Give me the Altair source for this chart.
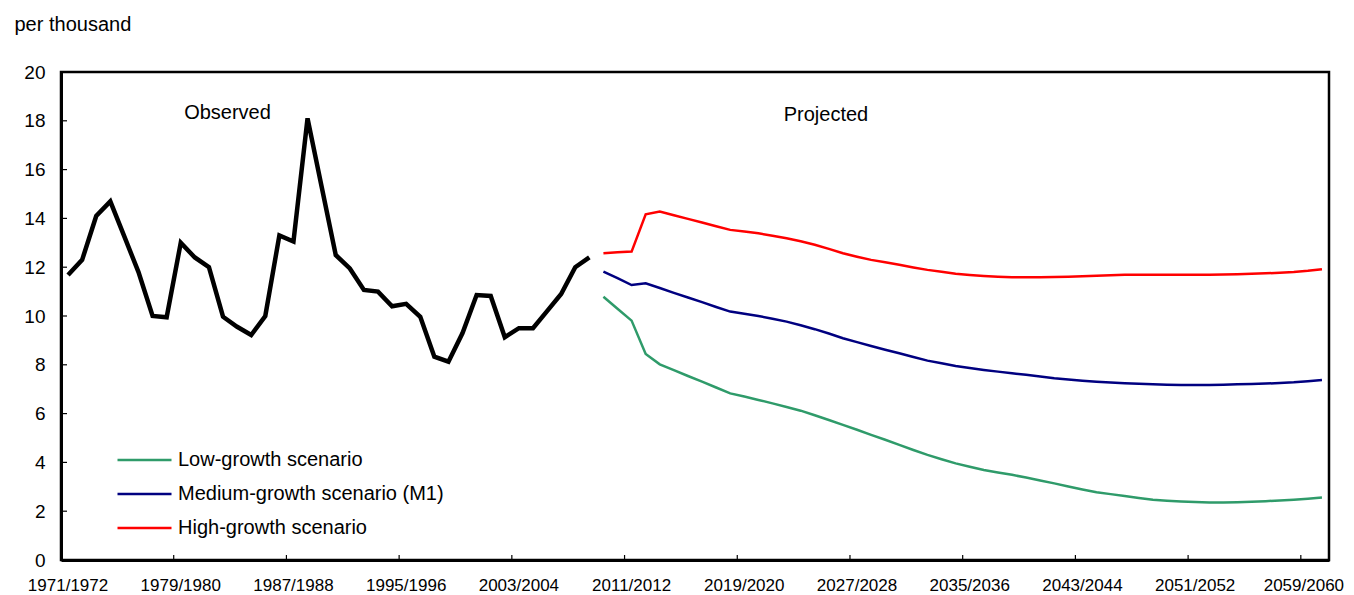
import altair as alt
import pandas as pd

# ---------------- data ----------------
start_years = list(range(1971, 2061))
periods = [f"{y}/{y + 1}" for y in start_years]          # 1971/1972 ... 2060/2061
tick_periods = periods[::8]                                # labelled categories
y_ticks = [0, 2, 4, 6, 8, 10, 12, 14, 16, 18, 20]

observed_periods = periods[0:38]                           # 1971/1972 ... 2008/2009
observed = [11.68, 12.3, 14.1, 14.7, 13.25, 11.8, 10.0, 9.95, 13.0, 12.4,
            12.0, 9.97, 9.56, 9.22, 10.0, 13.3, 13.05, 18.1, 15.3, 12.5,
            11.95, 11.07, 11.0, 10.4, 10.5, 9.97, 8.33, 8.13, 9.3, 10.86,
            10.82, 9.13, 9.5, 9.5, 10.2, 10.9, 12.0, 12.4]

proj_periods = periods[38:90]                              # 2009/2010 ... 2060/2061
low = [10.79, 10.30, 9.81, 8.44, 8.02, 7.78, 7.54, 7.31, 7.07, 6.83,
       6.70, 6.56, 6.42, 6.27, 6.12, 5.93, 5.74, 5.54, 5.34, 5.13,
       4.93, 4.72, 4.51, 4.31, 4.13, 3.96, 3.82, 3.69, 3.59, 3.49,
       3.38, 3.26, 3.14, 3.01, 2.89, 2.78, 2.70, 2.62, 2.54, 2.47,
       2.43, 2.40, 2.38, 2.36, 2.36, 2.37, 2.39, 2.41, 2.44, 2.47,
       2.51, 2.56]
medium = [11.82, 11.55, 11.27, 11.34, 11.15, 10.95, 10.76, 10.57, 10.37, 10.18,
          10.09, 10.00, 9.89, 9.77, 9.62, 9.46, 9.28, 9.09, 8.93, 8.77,
          8.62, 8.47, 8.32, 8.17, 8.06, 7.95, 7.87, 7.79, 7.72, 7.65,
          7.59, 7.52, 7.45, 7.40, 7.35, 7.31, 7.27, 7.24, 7.22, 7.20,
          7.18, 7.17, 7.17, 7.17, 7.18, 7.20, 7.21, 7.23, 7.25, 7.28,
          7.33, 7.38]
high = [12.57, 12.61, 12.64, 14.17, 14.28, 14.13, 13.98, 13.83, 13.68, 13.53,
        13.46, 13.39, 13.29, 13.19, 13.06, 12.92, 12.75, 12.57, 12.43, 12.30,
        12.20, 12.10, 11.99, 11.89, 11.81, 11.73, 11.68, 11.64, 11.61, 11.59,
        11.59, 11.59, 11.60, 11.61, 11.63, 11.65, 11.67, 11.69, 11.69, 11.69,
        11.69, 11.69, 11.69, 11.69, 11.70, 11.71, 11.73, 11.75, 11.77, 11.80,
        11.85, 11.92]

series_names = ["Low-growth scenario", "Medium-growth scenario (M1)", "High-growth scenario"]
series_colors = ["#2f9b6a", "#000080", "#ff0000"]
annotation_texts = ["Observed", "Projected"]

# ---------------- tables ----------------
obs_df = pd.DataFrame({"period": observed_periods, "value": observed})
proj_df = pd.concat([
    pd.DataFrame({"period": proj_periods, "value": vals, "series": name})
    for name, vals in zip(series_names, [low, medium, high])
])
xtick_df = pd.DataFrame({"period": tick_periods})
ytick_df = pd.DataFrame({"value": y_ticks[1:-1]})

FONT = "Liberation Sans"
W, H = 1268, 488

xscale = alt.Scale(type="band", domain=periods, paddingInner=0, paddingOuter=0)
yscale = alt.Scale(domain=[0, 20], nice=False, zero=True)

last_label = tick_periods[-1]
x_axis = alt.Axis(values=tick_periods, labelAngle=0, tickSize=0, labelPadding=30,
                  labelBaseline="alphabetic", labelFontSize=17, labelFont=FONT,
                  labelColor="black", domainColor="black", domainWidth=3,
                  grid=False, title=None, labelOverlap=False, labelLimit=200,
                  labelOffset={"condition": {"test": f"datum.label == '{last_label}'",
                                             "value": -4},
                               "value": 0})
y_axis = alt.Axis(values=y_ticks, tickSize=0, labelPadding=16, labelFontSize=19,
                  labelFont=FONT, labelColor="black", domainColor="black",
                  domainWidth=3, grid=False, title="per thousand", titleAngle=0,
                  titleAlign="left", titleBaseline="alphabetic", titleX=-47,
                  titleY=-42, titleFontSize=20, titleFont=FONT,
                  titleFontWeight="normal", titleColor="black")

obs_line = alt.Chart(obs_df).mark_line(color="black", strokeWidth=4.5).encode(
    x=alt.X("period:O", scale=xscale, axis=x_axis, bandPosition=0.5),
    y=alt.Y("value:Q", scale=yscale, axis=y_axis),
)

proj_lines = alt.Chart(proj_df).mark_line(strokeWidth=2.5).encode(
    x=alt.X("period:O", scale=xscale, bandPosition=0.5),
    y=alt.Y("value:Q", scale=yscale),
    color=alt.Color("series:N",
                    scale=alt.Scale(domain=series_names, range=series_colors),
                    sort=series_names,
                    legend=alt.Legend(orient="none", legendX=55, legendY=378,
                                      title=None, symbolType="stroke",
                                      symbolSize=2916, symbolStrokeWidth=2.5,
                                      labelFontSize=20, labelFont=FONT,
                                      labelColor="black", labelLimit=400,
                                      clipHeight=20, rowPadding=14,
                                      labelOffset=5, padding=0)),
)

xticks = alt.Chart(xtick_df).mark_rule(color="black", strokeWidth=1.2).encode(
    x=alt.X("period:O", scale=xscale, bandPosition=0),
    y=alt.value(H),
    y2=alt.value(H - 5),
)

yticks = alt.Chart(ytick_df).mark_rule(color="black", strokeWidth=1.2).encode(
    x=alt.value(0),
    x2=alt.value(6),
    y=alt.Y("value:Q", scale=yscale),
)

obs_text = alt.Chart(pd.DataFrame({"label": [annotation_texts[0]]})).mark_text(
    font=FONT, fontSize=20, color="black", align="center", baseline="alphabetic"
).encode(text="label:N", x=alt.value(166.5), y=alt.value(47))

proj_text = alt.Chart(pd.DataFrame({"label": [annotation_texts[1]]})).mark_text(
    font=FONT, fontSize=20, color="black", align="center", baseline="alphabetic"
).encode(text="label:N", x=alt.value(765), y=alt.value(49))

chart = alt.layer(obs_line, proj_lines, xticks, yticks, obs_text, proj_text).properties(
    width=W, height=H,
    padding={"left": 53, "top": 64, "right": 17, "bottom": 40},
    autosize=alt.AutoSizeParams(type="none"),
    background="white",
).configure_view(stroke="black", strokeWidth=2.5)

chart.save("out.html", embed_options={"renderer": "svg", "actions": False})
